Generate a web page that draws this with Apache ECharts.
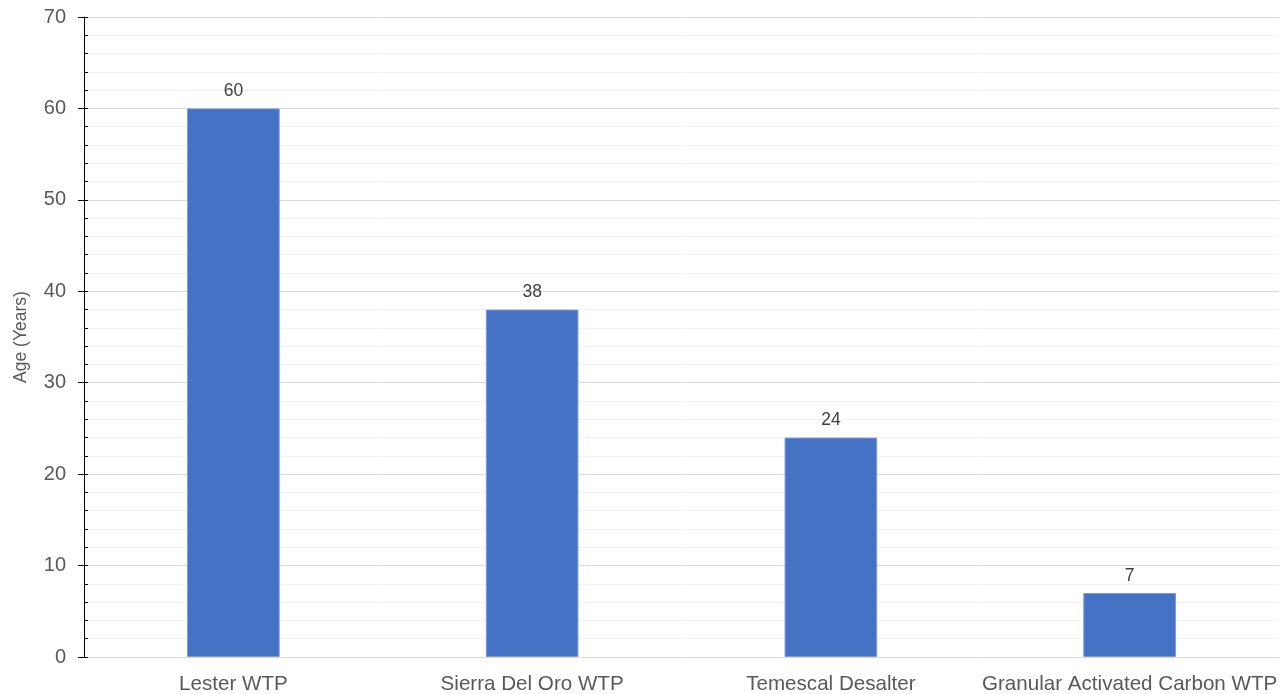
<!DOCTYPE html>
<html>
<head>
<meta charset="utf-8">
<script src="https://cdn.jsdelivr.net/npm/echarts@6/dist/echarts.min.js"></script>
<style>
html,body{margin:0;padding:0;background:#fff;}
#chart{width:1286px;height:694px;}
</style>
</head>
<body>
<div id="chart"></div>
<script>
var categories = ['Lester WTP', 'Sierra Del Oro WTP', 'Temescal Desalter', 'Granular Activated Carbon WTP'];
var ages = [60, 38, 24, 7];
var yAxisTitle = 'Age (Years)';
var yMin = 0, yMax = 70, yInterval = 10;

var font = '"Liberation Sans", Arial, sans-serif';
var chart = echarts.init(document.getElementById('chart'), null, {renderer: 'canvas'});
chart.setOption({
  animation: false,
  backgroundColor: '#ffffff',
  grid: {left: 84, right: 7, top: 17, bottom: 37, containLabel: false, outerBoundsMode: 'none'},
  xAxis: {
    type: 'category',
    data: categories,
    axisLine: {show: true, lineStyle: {color: '#d9d9d9', width: 1}},
    axisTick: {show: false},
    axisLabel: {color: '#595959', fontSize: 20.6, fontFamily: font, margin: 17, interval: 0}
  },
  yAxis: [{
    type: 'value',
    min: yMin, max: yMax, interval: yInterval,
    name: yAxisTitle,
    nameLocation: 'middle',
    nameGap: 54,
    nameTextStyle: {color: '#595959', fontSize: 17.5, fontFamily: font},
    axisLine: {show: true, lineStyle: {color: '#000000', width: 1}},
    axisTick: {show: true, length: 6, lineStyle: {color: '#000000'}},
    minorTick: {show: false, splitNumber: 5},
    axisLabel: {color: '#595959', fontSize: 20, fontFamily: font, margin: 18},
    splitLine: {show: true, lineStyle: {color: '#d9d9d9', width: 1}},
    minorSplitLine: {show: true, lineStyle: {color: '#f2f2f2', width: 1}}
  }, {
    type: 'value',
    position: 'left',
    offset: 0,
    min: yMin, max: yMax, interval: yInterval,
    axisLine: {show: false},
    axisTick: {show: true, inside: true, length: 4, lineStyle: {color: '#000000'}},
    minorTick: {show: true, splitNumber: 5, length: 4, lineStyle: {color: '#000000'}},
    axisLabel: {show: false},
    splitLine: {show: false},
    minorSplitLine: {show: false}
  }],
  series: [{
    type: 'bar',
    data: ages,
    yAxisIndex: 0,
    barWidth: '31%',
    itemStyle: {color: '#4472c4', borderColor: '#7d9ad6', borderWidth: 1},
    label: {show: true, position: 'top', distance: 8, color: '#404040', fontSize: 17.5, fontFamily: font}
  }]
});
</script>
</body>
</html>
